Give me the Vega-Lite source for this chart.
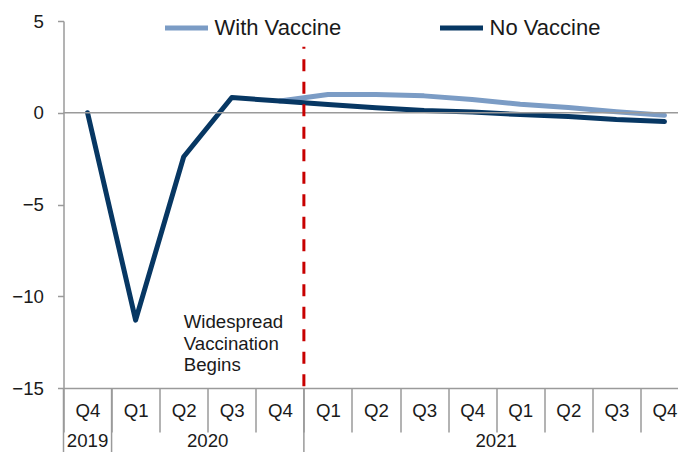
{
  "$schema": "https://vega.github.io/schema/vega-lite/v6.json",
  "width": 614.5,
  "height": 367,
  "autosize": {"type": "none"},
  "padding": {"left": 63.5, "top": 21, "right": 0, "bottom": 64},
  "background": "white",
  "config": {
    "view": {"stroke": null},
    "font": "Liberation Sans",
    "axis": {"labelFont": "Liberation Sans", "labelColor": "#1a1a1a", "domainColor": "#9a9a9a", "tickColor": "#9a9a9a", "domainWidth": 1.5, "tickWidth": 1.5, "grid": false}
  },
  "datasets": {
    "series": [
      {"q": "2019Q4", "series": "No Vaccine", "value": 0},
      {"q": "2020Q1", "series": "No Vaccine", "value": -11.3},
      {"q": "2020Q2", "series": "No Vaccine", "value": -2.4},
      {"q": "2020Q3", "series": "No Vaccine", "value": 0.83},
      {"q": "2020Q4", "series": "No Vaccine", "value": 0.64},
      {"q": "2021Q1", "series": "No Vaccine", "value": 0.45},
      {"q": "2021Q2", "series": "No Vaccine", "value": 0.27},
      {"q": "2021Q3", "series": "No Vaccine", "value": 0.12},
      {"q": "2021Q4", "series": "No Vaccine", "value": 0.04},
      {"q": "2022Q1", "series": "No Vaccine", "value": -0.1},
      {"q": "2022Q2", "series": "No Vaccine", "value": -0.2},
      {"q": "2022Q3", "series": "No Vaccine", "value": -0.37},
      {"q": "2022Q4", "series": "No Vaccine", "value": -0.48},
      {"q": "2020Q4", "series": "With Vaccine", "value": 0.64},
      {"q": "2021Q1", "series": "With Vaccine", "value": 1.0},
      {"q": "2021Q2", "series": "With Vaccine", "value": 1.0},
      {"q": "2021Q3", "series": "With Vaccine", "value": 0.92},
      {"q": "2021Q4", "series": "With Vaccine", "value": 0.72},
      {"q": "2022Q1", "series": "With Vaccine", "value": 0.46},
      {"q": "2022Q2", "series": "With Vaccine", "value": 0.28},
      {"q": "2022Q3", "series": "With Vaccine", "value": 0.05},
      {"q": "2022Q4", "series": "With Vaccine", "value": -0.14}
    ],
    "years": [
      {"year": "2019", "q": "2019Q4", "mid": "2019Q4"},
      {"year": "2020", "q": "2020Q1", "mid": "2020Q3"},
      {"year": "2021", "q": "2021Q1", "mid": "2022Q1"}
    ],
    "notes": [
      {"q": "2020Q2", "note": "Widespread\nVaccination\nBegins"}
    ],
    "baseline": [
      {"value": 0}
    ]
  },
  "layer": [
    {
      "data": {"name": "series"},
      "transform": [{"filter": "datum.series === 'With Vaccine'"}],
      "mark": {"type": "line", "strokeWidth": 5, "strokeCap": "round", "strokeJoin": "round"},
      "encoding": {
        "x": {
          "field": "q", "type": "nominal", "sort": null,
          "scale": {"domain": ["2019Q4","2020Q1","2020Q2","2020Q3","2020Q4","2021Q1","2021Q2","2021Q3","2021Q4","2022Q1","2022Q2","2022Q3","2022Q4"], "range": [0, 625], "paddingInner": 0, "paddingOuter": 0},
          "axis": {"title": null, "labelAngle": 0, "tickBand": "extent", "tickSize": 44, "labelPadding": -22, "labelBaseline": "middle", "labelFontSize": 18.67, "labelExpr": "substring(datum.label, 4)"}
        },
        "y": {
          "field": "value", "type": "quantitative",
          "scale": {"domain": [-15, 5], "nice": false, "zero": false},
          "axis": {"title": null, "values": [-15, -10, -5, 0, 5], "tickSize": 6, "labelPadding": 14, "labelFontSize": 18.67}
        },
        "color": {
          "field": "series", "type": "nominal",
          "scale": {"domain": ["With Vaccine", "No Vaccine"], "range": ["#7b9cc5", "#073763"]},
          "legend": {"title": null, "orient": "none", "legendX": 99, "legendY": -17, "direction": "horizontal", "symbolType": "stroke", "symbolStrokeWidth": 5, "symbolSize": 1849, "labelFontSize": 22, "labelColor": "#1a1a1a", "labelFont": "Liberation Sans", "labelOffset": 4, "columnPadding": 88}
        }
      }
    },
    {
      "data": {"name": "series"},
      "transform": [{"filter": "datum.series === 'No Vaccine'"}],
      "mark": {"type": "line", "strokeWidth": 5, "strokeCap": "round", "strokeJoin": "round"},
      "encoding": {
        "x": {"field": "q", "type": "nominal", "sort": null},
        "y": {"field": "value", "type": "quantitative"},
        "color": {"field": "series", "type": "nominal"}
      }
    },
    {
      "data": {"name": "baseline"},
      "mark": {"type": "rule", "color": "#9a9a9a", "strokeWidth": 1.5},
      "encoding": {"y": {"field": "value", "type": "quantitative"}}
    },
    {
      "data": {"name": "years"},
      "transform": [{"filter": "datum.year === '2021'"}],
      "mark": {"type": "rule", "color": "#c80000", "strokeWidth": 3, "strokeDash": [12, 10.5], "strokeDashOffset": 10},
      "encoding": {
        "x": {"field": "q", "type": "nominal", "sort": null, "bandPosition": 0},
        "y": {"datum": 3.6},
        "y2": {"datum": -15}
      }
    },
    {
      "data": {"name": "notes"},
      "mark": {"type": "text", "align": "left", "baseline": "alphabetic", "fontSize": 18.67, "lineHeight": 21.5, "lineBreak": "\n", "color": "#1a1a1a", "font": "Liberation Sans"},
      "encoding": {
        "x": {"field": "q", "type": "nominal", "sort": null},
        "y": {"datum": -11.75},
        "text": {"field": "note"}
      }
    },
    {
      "data": {"name": "years"},
      "mark": {"type": "rule", "color": "#9a9a9a", "strokeWidth": 1.5},
      "encoding": {
        "x": {"field": "q", "type": "nominal", "sort": null, "bandPosition": 0},
        "y": {"datum": -15},
        "y2": {"datum": -18.7}
      }
    },
    {
      "data": {"name": "years"},
      "transform": [{"filter": "datum.year === '2019'"}],
      "mark": {"type": "text", "baseline": "middle", "align": "center", "fontSize": 18.67, "color": "#1a1a1a", "font": "Liberation Sans"},
      "encoding": {
        "x": {"field": "mid", "type": "nominal", "sort": null, "bandPosition": 0.5},
        "y": {"datum": -17.9},
        "text": {"field": "year"}
      }
    },
    {
      "data": {"name": "years"},
      "transform": [{"filter": "datum.year !== '2019'"}],
      "mark": {"type": "text", "baseline": "middle", "align": "center", "fontSize": 18.67, "color": "#1a1a1a", "font": "Liberation Sans"},
      "encoding": {
        "x": {"field": "mid", "type": "nominal", "sort": null, "bandPosition": 0},
        "y": {"datum": -17.9},
        "text": {"field": "year"}
      }
    }
  ]
}
